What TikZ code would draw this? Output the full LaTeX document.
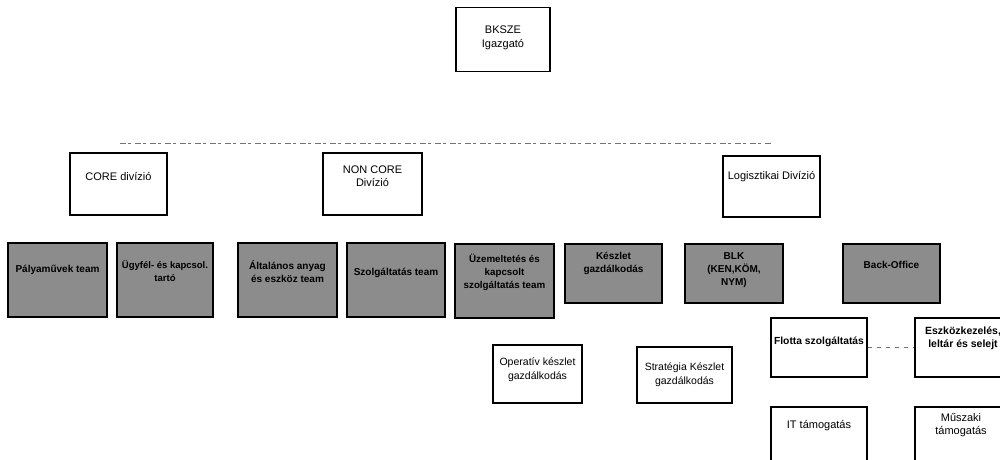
\documentclass[tikz,border=0pt]{standalone}
\usepackage{fontspec}
\setmainfont{Liberation Sans}
\begin{document}
\begin{tikzpicture}[x=1pt,y=-1pt,
  wbox/.style={draw=black,line width=1.4pt,fill=white,inner sep=0pt},
  gbox/.style={draw=black,line width=2.6pt,fill=black!45,inner sep=0pt},
  wtxt/.style={font=\fontsize{11}{13.5}\selectfont,align=center,inner sep=0pt},
  gtxt/.style={font=\bfseries\fontsize{10}{13}\selectfont,align=center,inner sep=0pt},
  faint/.style={draw=black!55,line width=0.8pt,dash pattern=on 6pt off 2pt on 3pt off 4pt}]
\useasboundingbox (0,0) rectangle (1000,459);
% top
\node[wbox,minimum width=94pt,minimum height=64pt] (top) at (503,39.5) {};
\node[wtxt] (topt) at (503,38) {BKSZE\\Igazgató};
% faint horizontal line
\coordinate (hl) at (120,143);
\coordinate (hr) at (772,143);
\draw[faint] (hl) -- (hr);
% divisions
\node[wbox,minimum width=97pt,minimum height=62pt] (core) at (118.5,184) {};
\node[wtxt] (coret) at (118.5,176) {CORE divízió};
\node[wbox,minimum width=99pt,minimum height=62pt] (noncore) at (372.5,184) {};
\node[wtxt] (noncoret) at (372.5,176) {NON CORE\\Divízió};
\node[wbox,minimum width=97pt,minimum height=61pt] (log) at (771.5,186.5) {};
\node[wtxt] (logt) at (771.5,177) {Logisztikai Divízió};
% gray teams
\node[gbox,minimum width=99pt,minimum height=74pt] (g1) at (57.5,280) {};
\node[gtxt] (g1t) at (57.5,270) {Pályaművek team};
\node[gbox,minimum width=96pt,minimum height=74pt] (g2) at (165,280) {};
\node[gtxt,font=\bfseries\fontsize{9.5}{13}\selectfont] (g2t) at (165,271) {Ügyfél- és kapcsol.\\tartó};
\node[gbox,minimum width=99pt,minimum height=74pt] (g3) at (287.5,280) {};
\node[gtxt] (g3t) at (287.5,272) {Általános anyag\\és eszköz team};
\node[gbox,minimum width=98pt,minimum height=74pt] (g4) at (396,280) {};
\node[gtxt] (g4t) at (396,273) {Szolgáltatás team};
\node[gbox,minimum width=99pt,minimum height=74pt] (g5) at (504.5,281) {};
\node[gtxt,font=\bfseries\fontsize{9.8}{13}\selectfont] (g5t) at (504.5,272) {Üzemeltetés és\\kapcsolt\\szolgáltatás team};
\node[gbox,minimum width=97pt,minimum height=59pt] (g6) at (613.5,273.5) {};
\node[gtxt] (g6t) at (613.5,263) {Készlet\\gazdálkodás};
\node[gbox,minimum width=98pt,minimum height=59pt] (g7) at (734,273.5) {};
\node[gtxt] (g7t) at (734,270.5) {BLK\\(KEN,KÖM,\\NYM)};
\node[gbox,minimum width=97pt,minimum height=59pt] (g8) at (891.5,273.5) {};
\node[gtxt] (g8t) at (891.5,265) {Back-Office};
% lower white boxes
\node[wbox,minimum width=89pt,minimum height=58pt] (op) at (537.5,374) {};
\node[wtxt,font=\fontsize{10.5}{14}\selectfont] (opt) at (537.5,369.5) {Operatív készlet\\gazdálkodás};
\node[wbox,minimum width=95pt,minimum height=56pt] (st) at (684.5,375) {};
\node[wtxt,font=\fontsize{10.5}{14}\selectfont] (stt) at (684.5,374.5) {Stratégia Készlet\\gazdálkodás};
\node[wbox,minimum width=96pt,minimum height=59pt] (fl) at (819,347.5) {};
\node[gtxt,font=\bfseries\fontsize{10.3}{12}\selectfont] (flt) at (819,342) {Flotta szolgáltatás};
\node[wbox,minimum width=100pt,minimum height=59pt] (esz) at (965,347.5) {};
\node[gtxt,font=\bfseries\fontsize{10.5}{13}\selectfont] (eszt) at (963,338) {Eszközkezelés,\\leltár és selejt};
\node[wbox,minimum width=96pt,minimum height=70pt] (it) at (819,442) {};
\node[wtxt] (itt) at (819,426) {IT támogatás};
\node[wbox,minimum width=100pt,minimum height=70pt] (mu) at (965,442) {};
\node[wtxt] (mut) at (961,425) {Műszaki\\támogatás};
% dashed link
\draw[faint,dash pattern=on 4pt off 5pt] (fl.east) -- (esz.west);
\end{tikzpicture}
\end{document}
